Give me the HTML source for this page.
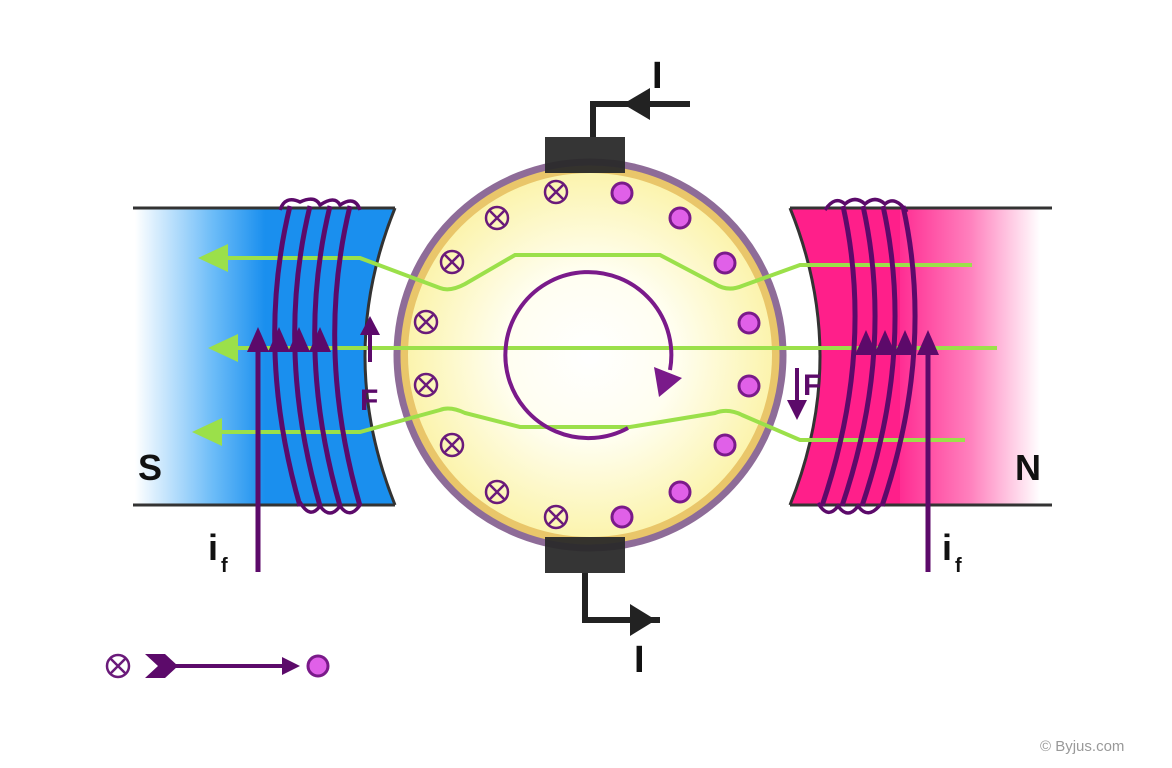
<!DOCTYPE html>
<html><head><meta charset="utf-8"><style>html,body{margin:0;padding:0;background:#fff}svg{display:block}</style></head>
<body>
<svg width="1172" height="768" viewBox="0 0 1172 768" xmlns="http://www.w3.org/2000/svg" font-family="Liberation Sans, sans-serif">
<defs>
<linearGradient id="bl" x1="135" y1="0" x2="265" y2="0" gradientUnits="userSpaceOnUse">
<stop offset="0" stop-color="#fff"/><stop offset="0.6" stop-color="#6cbcf8"/><stop offset="1" stop-color="#1a8fee"/></linearGradient>
<linearGradient id="pk" x1="900" y1="0" x2="1040" y2="0" gradientUnits="userSpaceOnUse">
<stop offset="0" stop-color="#ff2d93"/><stop offset="0.5" stop-color="#ff80bd"/><stop offset="1" stop-color="#fff"/></linearGradient>
<radialGradient id="rot" cx="590" cy="355" r="190" gradientUnits="userSpaceOnUse">
<stop offset="0" stop-color="#fff"/><stop offset="0.45" stop-color="#fffef0"/><stop offset="1" stop-color="#fbf3a8"/></radialGradient>
<g id="x"><circle r="11" fill="none" stroke="#6a1a7a" stroke-width="2.5"/><path d="M-7.5,-7.5L7.5,7.5M7.5,-7.5L-7.5,7.5" stroke="#6a1a7a" stroke-width="2.5"/></g>
<g id="d"><circle r="10" fill="#e060e8" stroke="#7a1a8a" stroke-width="3"/></g>
</defs>
<path d="M135,208 L395,208 Q335,356 395,505 L135,505 Z" fill="url(#bl)"/>
<path d="M395,208 Q335,356 395,505" fill="none" stroke="#333" stroke-width="3"/>
<path d="M133,208H395M133,505H395" stroke="#333" stroke-width="3"/>
<path d="M790,208 Q850,356 790,505 L1050,505 L1050,208 Z" fill="url(#pk)"/>
<path d="M790,208 Q850,356 790,505 L900,505 L900,208 Z" fill="#ff1f8a"/>
<path d="M790,208 Q850,356 790,505" fill="none" stroke="#333" stroke-width="3"/>
<path d="M790,208H1052M790,505H1052" stroke="#333" stroke-width="3"/>
<circle cx="590" cy="355" r="193" fill="#e9c66a"/>
<circle cx="590" cy="355" r="193" fill="none" stroke="#8e6c98" stroke-width="7"/>
<circle cx="590" cy="355" r="182" fill="url(#rot)"/>
<g fill="none" stroke="#9be04a" stroke-width="4">
<path d="M225,258 H360 L440,288 Q450,292 465,284 L515,255 H660 L715,284 Q728,292 742,286 L800,265 H972"/>
<path d="M235,348 H997"/>
<path d="M220,432 H360 L440,410 Q450,406 465,413 L520,427 H630 L715,413 Q728,408 742,415 L800,440 H965"/>
</g>
<g fill="#9be04a"><path d="M198,258 L228,244 V272 Z"/><path d="M208,348 L238,334 V362 Z"/><path d="M192,432 L222,418 V446 Z"/></g>
<g fill="none" stroke="#5c0a6a" stroke-width="5">
<path d="M290,206 Q255,350 300,506"/><path d="M310,206 Q275,350 320,506"/><path d="M330,206 Q295,350 340,506"/><path d="M350,206 Q315,350 360,506"/>
<path d="M280,210 Q285,195 300,202 Q315,195 320,205 Q335,195 340,205 Q355,195 360,210" stroke-width="3.5"/>
<path d="M300,502 Q310,520 320,506 Q330,520 340,506 Q350,520 360,505" stroke-width="3.5"/>
<path d="M258,340 V572"/>
</g>
<g fill="#5c0a6a"><path d="M258,327 L247,352 H269Z"/><path d="M279,327 L268,352 H290Z"/><path d="M299,327 L288,352 H310Z"/><path d="M320,327 L309,352 H331Z"/></g>
<g fill="none" stroke="#5c0a6a" stroke-width="5">
<path d="M843,206 Q875,350 822,506"/><path d="M863,206 Q895,350 842,506"/><path d="M883,206 Q915,350 862,506"/><path d="M903,206 Q935,350 882,506"/>
<path d="M825,210 Q835,195 845,204 Q855,195 865,204 Q875,195 885,204 Q895,195 907,212" stroke-width="3.5"/>
<path d="M818,503 Q828,520 838,506 Q848,520 858,506 Q868,520 880,505" stroke-width="3.5"/>
<path d="M928,345 V572"/>
</g>
<g fill="#5c0a6a"><path d="M866,330 L855,355 H877Z"/><path d="M885,330 L874,355 H896Z"/><path d="M905,330 L894,355 H916Z"/><path d="M928,330 L917,355 H939Z"/></g>
<use href="#x" x="556" y="192"/><use href="#x" x="497" y="218"/><use href="#x" x="452" y="262"/><use href="#x" x="426" y="322"/>
<use href="#x" x="426" y="385"/><use href="#x" x="452" y="445"/><use href="#x" x="497" y="492"/><use href="#x" x="556" y="517"/>
<use href="#d" x="622" y="193"/><use href="#d" x="680" y="218"/><use href="#d" x="725" y="263"/><use href="#d" x="749" y="323"/>
<use href="#d" x="749" y="386"/><use href="#d" x="725" y="445"/><use href="#d" x="680" y="492"/><use href="#d" x="622" y="517"/>
<path d="M628,428 A83,83 0 1 1 670,370" fill="none" stroke="#7a1a8a" stroke-width="4"/>
<path d="M654,367 L682,378 L659,397 Z" fill="#7a1a8a"/>
<rect x="545" y="137" width="80" height="36" fill="#2a2a2a" opacity="0.95"/>
<rect x="545" y="537" width="80" height="36" fill="#2a2a2a" opacity="0.95"/>
<path d="M593,137 V104 H690" fill="none" stroke="#222" stroke-width="6"/>
<path d="M623,104 L650,88 V120 Z" fill="#222"/>
<path d="M585,573 V620 H660" fill="none" stroke="#222" stroke-width="6"/>
<path d="M656,620 L630,604 V636 Z" fill="#222"/>
<path d="M370,332 V362" stroke="#5c0a6a" stroke-width="4"/><path d="M370,316 L360,335 H380Z" fill="#5c0a6a"/>
<path d="M797,368 V402" stroke="#5c0a6a" stroke-width="4"/><path d="M797,420 L787,400 H807Z" fill="#5c0a6a"/>
<g font-weight="bold" fill="#5c0a6a" font-size="30"><text x="360" y="410">F</text><text x="803" y="395">F</text></g>
<g font-weight="bold" fill="#111">
<text x="138" y="480" font-size="36">S</text><text x="1015" y="480" font-size="36">N</text>
<text x="652" y="88" font-size="38">I</text><text x="634" y="672" font-size="38">I</text>
<text x="208" y="560" font-size="36">i</text><text x="221" y="572" font-size="20">f</text>
<text x="942" y="560" font-size="36">i</text><text x="955" y="572" font-size="20">f</text>
</g>
<use href="#x" x="118" y="666"/>
<path d="M145,654 H165 L178,666 L165,678 H145 L158,666 Z" fill="#5c0a6a"/>
<path d="M175,666 H290" stroke="#5c0a6a" stroke-width="4"/><path d="M300,666 L282,657 V675Z" fill="#5c0a6a"/>
<use href="#d" x="318" y="666"/>
<text x="1040" y="751" font-size="15" fill="#999">© Byjus.com</text>
</svg>
</body></html>
